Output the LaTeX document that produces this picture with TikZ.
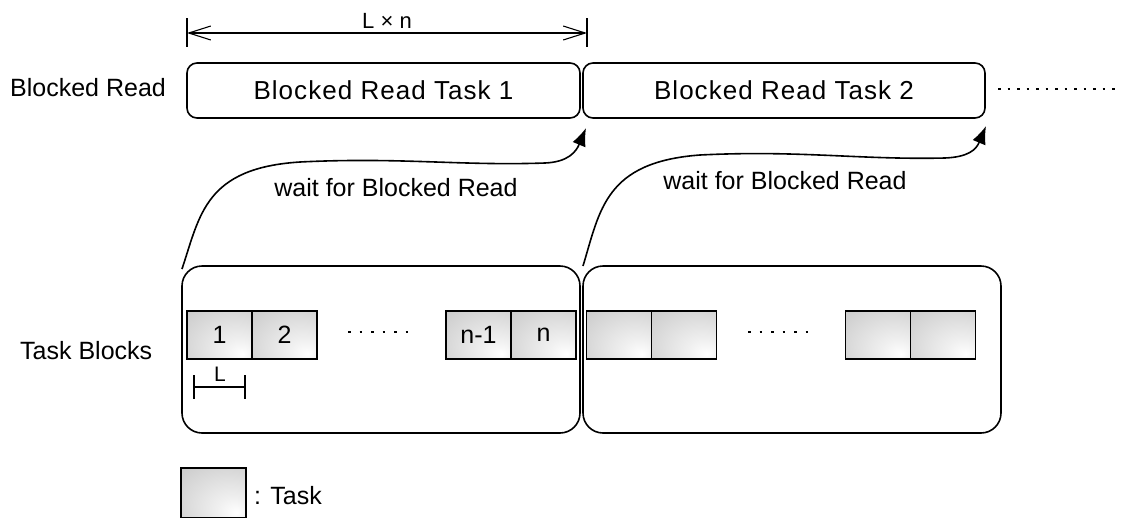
\documentclass[tikz,border=0pt]{standalone}
\usepackage{fontspec}
\setmainfont{Liberation Sans}
\newfontfamily\widefont[LetterSpace=4]{Liberation Sans}
\usetikzlibrary{arrows.meta}
\pgfdeclareradialshading{taskshade}{\pgfpoint{18bp}{-20bp}}{color(0bp)=(white); color(12bp)=(black!6); color(45bp)=(black!20); color(75bp)=(black!30)}
\begin{document}
\begin{tikzpicture}[x=1pt,y=-1pt,
  every node/.style={font=\fontsize{25}{30}\selectfont},
  ln/.style={line width=1.6pt},
  brbox/.style={ln, draw, rounded corners=10pt, minimum height=55pt, inner sep=0pt, font=\widefont\fontsize{26}{30}\selectfont},
  tbbox/.style={ln, draw, rounded corners=20pt, minimum height=167pt, inner sep=0pt},
  taskbox/.style={ln, draw, shading=taskshade, minimum width=65pt, minimum height=48pt, inner sep=0pt},
  waitarrow/.style={ln, -{Latex[length=18pt,width=14pt]}},
  dimarrow/.style={line width=1.1pt, {Straight Barb[length=22pt,width=14pt,line width=1.1pt]}-{Straight Barb[length=22pt,width=14pt,line width=1.1pt]}},
  tick/.style={line width=1.3pt},
  dotline/.style={line width=2pt, dash pattern=on 2.5pt off 7pt},
  lbl/.style={anchor=west, inner sep=0pt}
]
\useasboundingbox (0,0) rectangle (1127,517);

% dimension L x n
\coordinate (dl1) at (187,18); \coordinate (dl2) at (187,47);
\coordinate (dr1) at (587,18); \coordinate (dr2) at (587,47);
\draw[tick] (dl1) -- (dl2);
\draw[tick] (dr1) -- (dr2);
\coordinate (da) at (187,33); \coordinate (db) at (587,33);
\draw[dimarrow] (da) -- (db);
\node[inner sep=0pt, font=\fontsize{22}{26}\selectfont] (lxn) at (387,21) {L × n};

% blocked read row
\node[lbl] (brlabel) at (10,88) {Blocked Read};
\node[brbox, minimum width=393pt] (br1) at (383.5,90.5) {Blocked Read Task 1};
\node[brbox, minimum width=402pt] (br2) at (784,90.5) {Blocked Read Task 2};
\coordinate (brd1) at (998,89); \coordinate (brd2) at (1120,89);
\draw[dotline] (brd1) -- (brd2);

% task blocks
\node[lbl] (tblabel) at (20,351) {Task Blocks};
\node[tbbox, minimum width=398pt] (tb1) at (381,349.5) {};
\node[tbbox, minimum width=418pt] (tb2) at (792,349.5) {};

\node[taskbox] (t1) at (219.5,335) {1};
\node[taskbox] (t2) at (284.5,335) {2};
\node[taskbox] (t3) at (478.5,335) {n-1};
\node[taskbox] (t4) at (543.5,335) {n};
\node[taskbox] (u1) at (619,335) {};
\node[taskbox] (u2) at (684,335) {};
\node[taskbox] (u3) at (878,335) {};
\node[taskbox] (u4) at (943,335) {};
\coordinate (td1) at (348,332); \coordinate (td2) at (410,332);
\draw[dotline, dash pattern=on 2.5pt off 9pt] (td1) -- (td2);
\coordinate (ud1) at (748,332); \coordinate (ud2) at (810,332);
\draw[dotline, dash pattern=on 2.5pt off 9pt] (ud1) -- (ud2);

% L dimension
\coordinate (la1) at (194,375); \coordinate (la2) at (194,399);
\coordinate (lb1) at (245,375); \coordinate (lb2) at (245,399);
\draw[tick] (la1) -- (la2);
\draw[tick] (lb1) -- (lb2);
\coordinate (lc1) at (194,387); \coordinate (lc2) at (245,387);
\draw[tick] (lc1) -- (lc2);
\node[inner sep=0pt, font=\fontsize{21}{25}\selectfont] (llab) at (220,374) {L};

% wait arrows
\coordinate (w1s) at (182,269);
\coordinate (w1e) at (586,128);
\draw[waitarrow] (w1s) .. controls (200,215) and (205,168) .. (300,162)
  .. controls (400,157) and (460,166) .. (545,163)
  .. controls (568,162) and (576,152) .. (w1e);
\node[inner sep=0pt] (w1lab) at (396,188) {wait for Blocked Read};

\coordinate (w2s) at (583,266);
\coordinate (w2e) at (986,126);
\draw[waitarrow] (w2s) .. controls (600,210) and (605,162) .. (700,155)
  .. controls (800,150) and (860,160) .. (945,158)
  .. controls (968,157) and (976,150) .. (w2e);
\node[inner sep=0pt] (w2lab) at (785,181) {wait for Blocked Read};

% legend
\node[taskbox, minimum height=50pt] (leg) at (213.5,493) {};
\node[lbl] (leglab) at (254,496) {: Task};
\end{tikzpicture}
\end{document}
